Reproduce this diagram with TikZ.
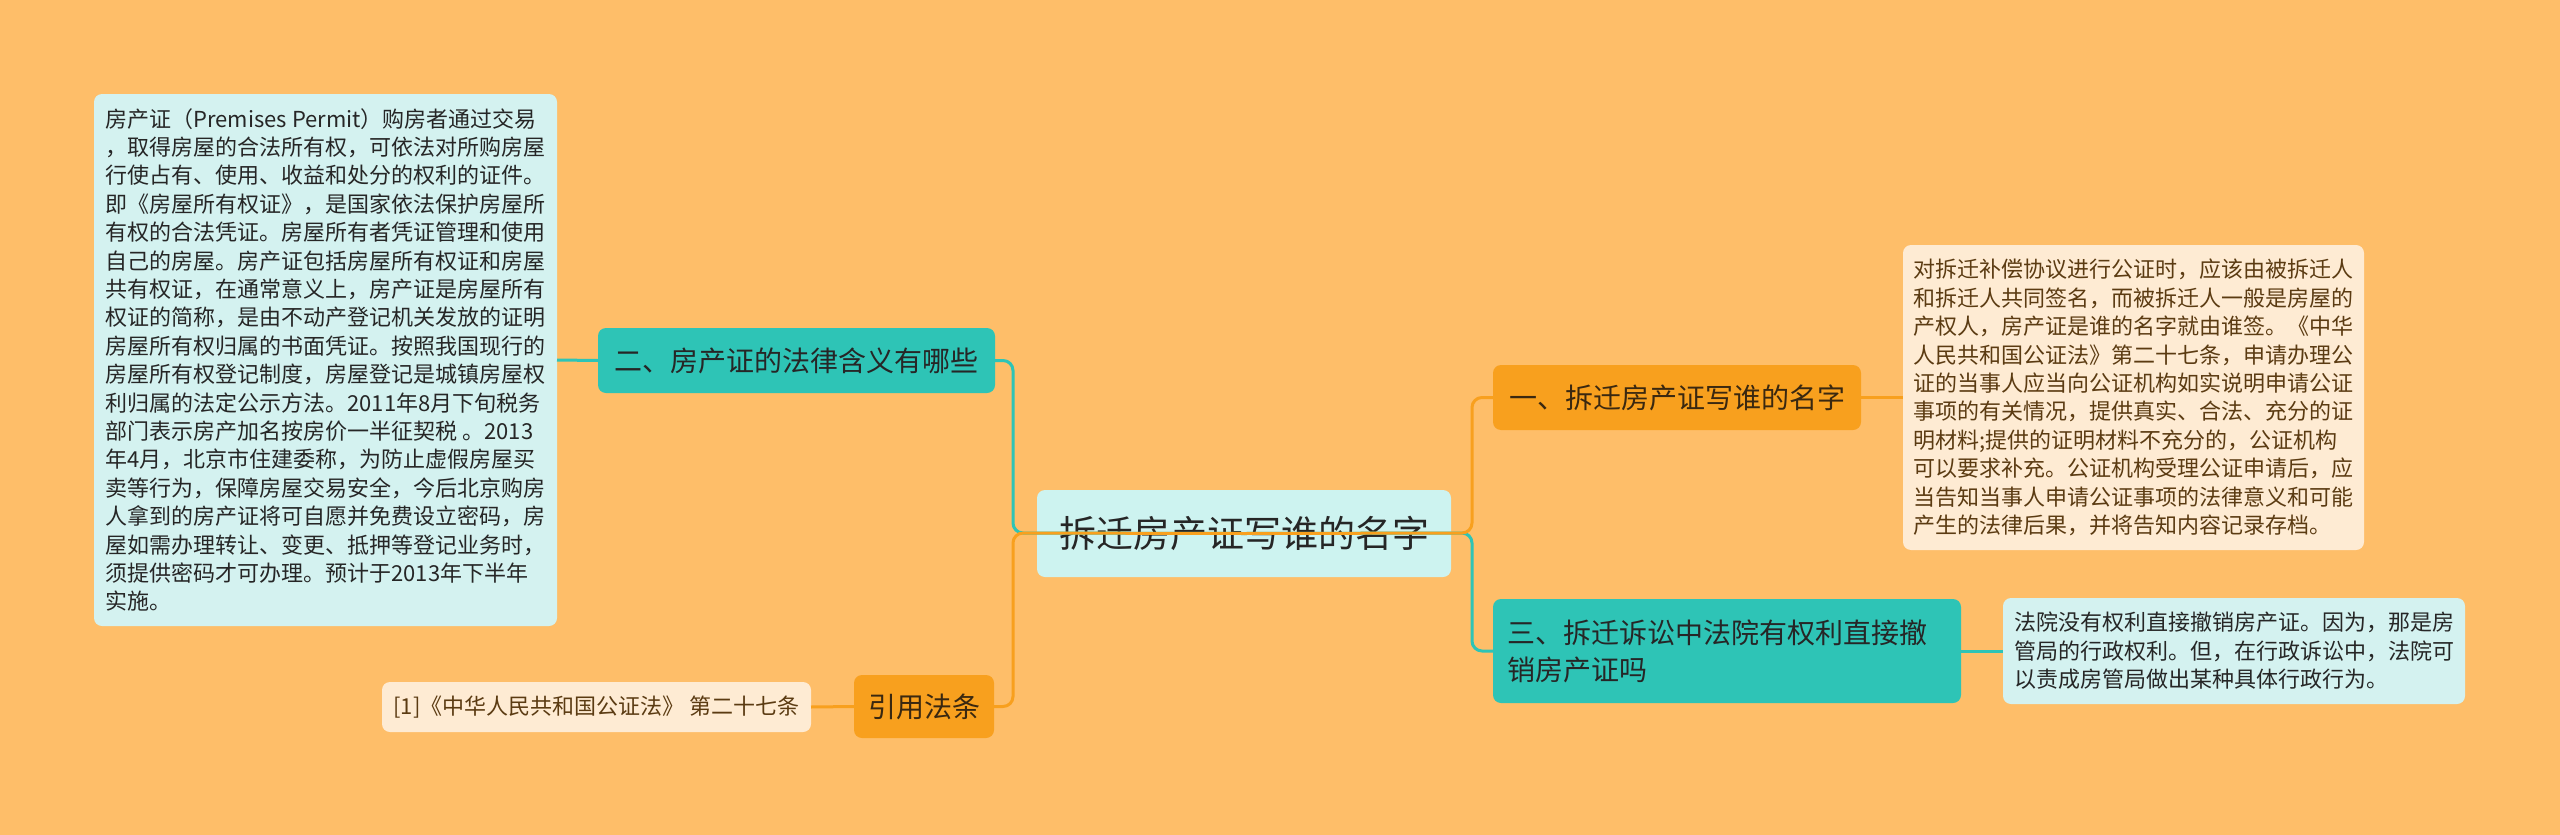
\documentclass[tikz,border=0pt]{standalone}
\usepackage{fontspec}
\setmainfont{Noto Sans CJK SC}
\definecolor{bgc}{HTML}{FEBE69}
\definecolor{tealc}{HTML}{2EC4B6}
\definecolor{orangec}{HTML}{F8A01E}
\definecolor{cyanbox}{HTML}{D4F2F0}
\definecolor{rootbox}{HTML}{CDF3F0}
\definecolor{creambox}{HTML}{FEEBD3}
\definecolor{darktext}{HTML}{262626}
\definecolor{browntext}{HTML}{5B3B12}
\definecolor{orangetext}{HTML}{3A2810}
\begin{document}
\begin{tikzpicture}[x=1pt,y=-1pt,
  basebox/.style={rounded corners=8pt, anchor=north west, inner sep=0pt, outer sep=0pt},
  smalltext/.style={font=\fontsize{22}{28.4}\selectfont, align=left},
  bigtext/.style={font=\fontsize{28}{37}\selectfont},
  cyanleaf/.style={basebox, fill=cyanbox, text=darktext, smalltext},
  creamleaf/.style={basebox, fill=creambox, text=browntext, smalltext},
  tealnode/.style={basebox, fill=tealc, text=darktext, bigtext},
  orangenode/.style={basebox, fill=orangec, text=orangetext, bigtext},
  tline/.style={draw=tealc, line width=3pt, rounded corners=10pt},
  oline/.style={draw=orangec, line width=3pt, rounded corners=10pt}
]
\fill[bgc] (0,0) rectangle (2560,835);
\useasboundingbox (0,0) rectangle (2560,835);

% root
\node[basebox, fill=rootbox, text=darktext, font=\fontsize{37}{44}\selectfont,
  minimum width=414pt, minimum height=87pt] (root) at (1037,490) {拆迁房产证写谁的名字};

% left side
\node[cyanleaf, minimum width=463pt, minimum height=532pt] (lbox) at (94,94) {%
房产证（Premises Permit）购房者通过交易\\
，取得房屋的合法所有权，可依法对所购房屋\\
行使占有、使用、收益和处分的权利的证件。\\
即《房屋所有权证》，是国家依法保护房屋所\\
有权的合法凭证。房屋所有者凭证管理和使用\\
自己的房屋。房产证包括房屋所有权证和房屋\\
共有权证，在通常意义上，房产证是房屋所有\\
权证的简称，是由不动产登记机关发放的证明\\
房屋所有权归属的书面凭证。按照我国现行的\\
房屋所有权登记制度，房屋登记是城镇房屋权\\
利归属的法定公示方法。2011年8月下旬税务\\
部门表示房产加名按房价一半征契税 。2013\\
年4月，北京市住建委称，为防止虚假房屋买\\
卖等行为，保障房屋交易安全，今后北京购房\\
人拿到的房产证将可自愿并免费设立密码，房\\
屋如需办理转让、变更、抵押等登记业务时，\\
须提供密码才可办理。预计于2013年下半年\\
实施。};

\node[tealnode, minimum width=397pt, minimum height=65pt] (n2) at (598,328) {二、房产证的法律含义有哪些};

\node[orangenode, minimum width=140pt, minimum height=63pt] (yy) at (854,675) {引用法条};

\node[creamleaf, font=\fontsize{22}{26}\selectfont, minimum width=429pt, minimum height=50pt] (ref) at (382,682) {[1]《中华人民共和国公证法》 第二十七条};

% right side
\node[orangenode, minimum width=368pt, minimum height=65pt] (n1) at (1493,365) {一、拆迁房产证写谁的名字};

\node[tealnode, align=left, text width=440pt, inner xsep=14pt, minimum width=468pt, minimum height=104pt] (n3) at (1493,599) {三、拆迁诉讼中法院有权利直接撤\\销房产证吗};

\node[creamleaf, minimum width=461pt, minimum height=305pt] (rb1) at (1903,245) {%
对拆迁补偿协议进行公证时，应该由被拆迁人\\
和拆迁人共同签名，而被拆迁人一般是房屋的\\
产权人，房产证是谁的名字就由谁签。《中华\\
人民共和国公证法》第二十七条，申请办理公\\
证的当事人应当向公证机构如实说明申请公证\\
事项的有关情况，提供真实、合法、充分的证\\
明材料;提供的证明材料不充分的，公证机构\\
可以要求补充。公证机构受理公证申请后，应\\
当告知当事人申请公证事项的法律意义和可能\\
产生的法律后果，并将告知内容记录存档。};

\node[cyanleaf, minimum width=462pt, minimum height=106pt] (rb2) at (2003,598) {%
法院没有权利直接撤销房产证。因为，那是房\\
管局的行政权利。但，在行政诉讼中，法院可\\
以责成房管局做出某种具体行政行为。};

% junctions
\coordinate (lj) at (1013,533);
\coordinate (rj) at (1472,533);

% connectors
\draw[tline] (root.center) -- (lj) |- (n2.east);
\draw[tline] (root.center) -- (rj) |- (n3.west);
\draw[oline] (root.center) -- (lj) |- (yy.east);
\draw[oline] (root.center) -- (rj) |- (n1.west);
\draw[tline] (lbox.east) -- (n2.west);
\draw[oline] (ref.east) -- (yy.west);
\draw[oline] (n1.east) -- (rb1.west);
\draw[tline] (n3.east) -- (rb2.west);
\end{tikzpicture}
\end{document}
